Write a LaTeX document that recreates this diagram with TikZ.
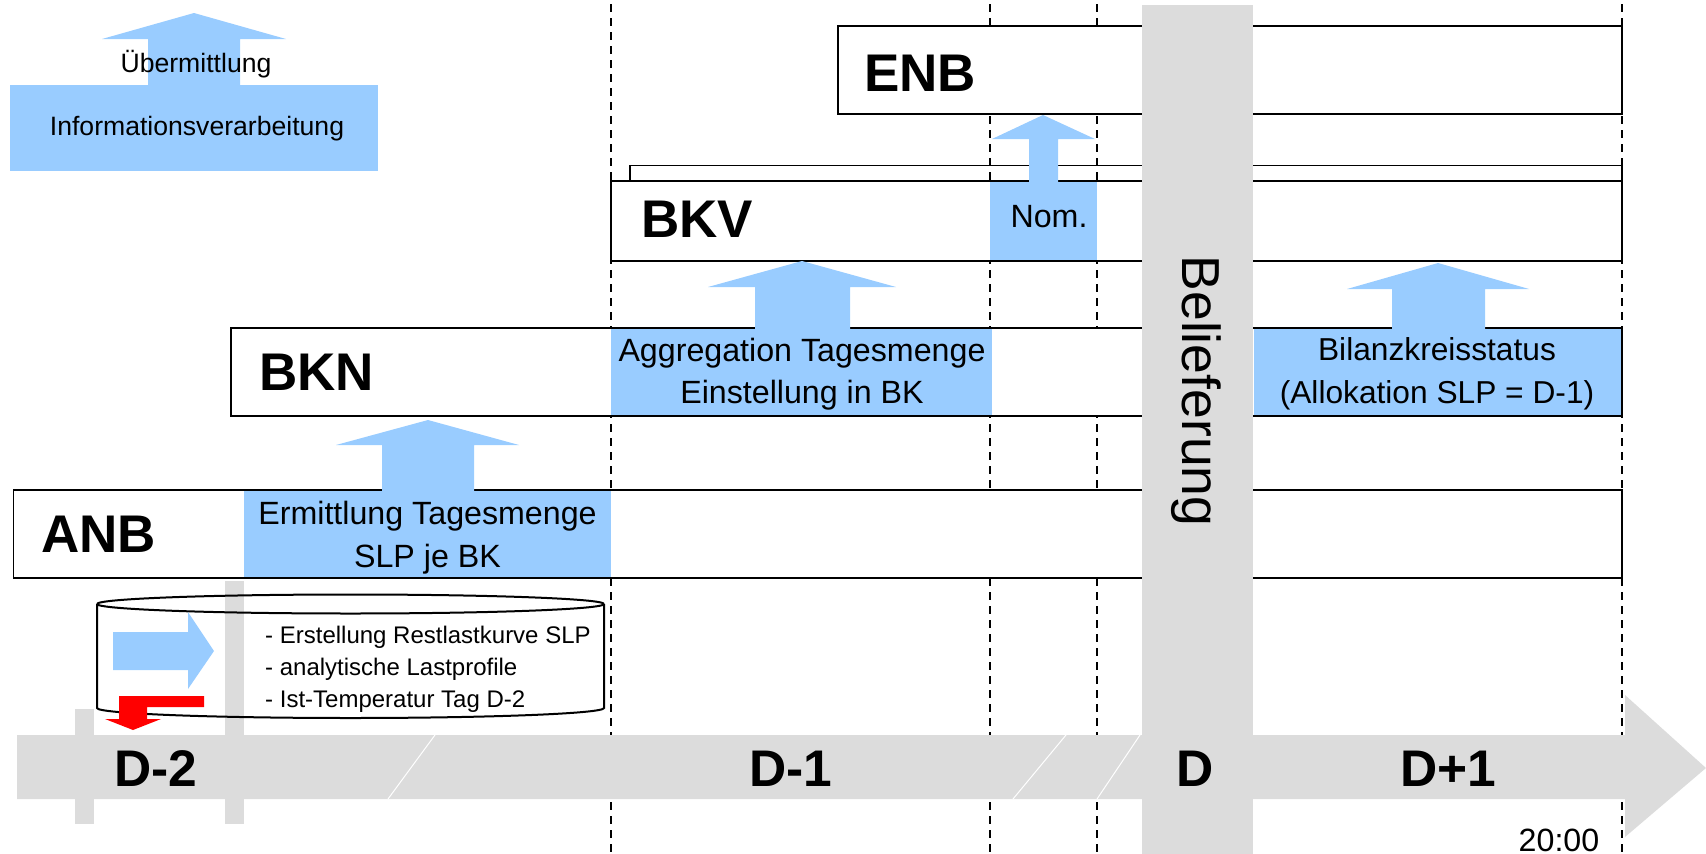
\documentclass[tikz,border=0pt]{standalone}
\usepackage{fontspec}
\setmainfont{Liberation Sans}
\definecolor{infoblue}{HTML}{99CCFF}
\definecolor{bandgray}{HTML}{DCDCDC}
\tikzset{
	rolebox/.style={draw=black,line width=1.8pt,fill=white},
	infoblock/.style={fill=infoblue},
	daymark/.style={fill=bandgray},
	txt/.style={inner sep=0pt,align=center,font=\fontsize{32.2}{42.5}\selectfont},
	smalltxt/.style={inner sep=0pt,align=left,font=\fontsize{24}{31.8}\selectfont},
	legendtxt/.style={inner sep=0pt,font=\fontsize{26.6}{30}\selectfont},
	rolename/.style={inner sep=0pt,font=\fontsize{53}{60}\selectfont\bfseries},
	dayname/.style={inner sep=0pt,font=\fontsize{51.5}{60}\selectfont\bfseries},
}
\begin{document}
\begin{tikzpicture}[x=1pt,y=-1pt]
	\useasboundingbox (0,0) rectangle (1706,854);
	\def\RightEnd{1622}%rechter Rand der Balken
	% Tagesgrenzen
	\foreach \x in{611,990,1097,1622}
		\draw[line width=1.6pt,dash pattern=on 8pt off 6pt] (\x,4)--(\x,854);
	% Balken der Rollen
	\draw[line width=1.8pt] (630,181)--(630,165.5)--(\RightEnd,165.5)--(\RightEnd,181);
	\draw[rolebox] (838,26) rectangle(\RightEnd,114);
	\draw[rolebox] (611,181) rectangle(\RightEnd,261);
	\draw[rolebox] (231,328) rectangle(\RightEnd,416);
	\draw[rolebox] (13.5,490) rectangle(\RightEnd,578);
	% Verarbeitung
	\fill[infoblock] (244,491) rectangle(611,577);
	\fill[infoblock] (611,329) rectangle(992,415);
	\fill[infoblock] (1254,329) rectangle(1621,415);
	\fill[infoblock] (990,182) rectangle(1097,260);
	% Pfeile nach oben: Schaft links, rechts, Kopf links, rechts, Kopf y, Spitze x, Spitze y, Fuss y
	\foreach \a/\b/\c/\d/\h/\t/\s/\f in{382/474/336/519/445/428/420/491,755/850/708/896/287/802/261/329,1392/1485/1347/1529/289/1438/263/329,1029/1058/992/1095/139/1043/115/182,148/240/102/286/39/194/13/85}
		\fill[infoblock] (\a,\f)--(\a,\h)--(\c,\h)--(\t,\s)--(\d,\h)--(\b,\h)--(\b,\f)--cycle;
	\fill[infoblock] (10,85) rectangle(378,171);
	% Zeitstrahl
	\fill[daymark] (75,709) rectangle(94,824);
	\fill[daymark] (225,581) rectangle(244,824);
	\fill[daymark] (17,735)--(1625,735)--(1625,695)--(1706,768)--(1625,837)--(1625,799)--(17,799)--cycle;
	\fill[daymark] (1142,5) rectangle(1253,854);
	\foreach \x/\y in{435/388,1066/1013,1140/1097}
		\draw[white,line width=1pt] (\x,735)--(\y,799);
	% Speicher
	\draw[line width=2pt] (97,604) arc(180:0:253.5 and 9.5) (604,604) arc(0:-180:253.5 and 9.5)
		(97,604)--(97,708) arc(180:0:253.5 and 10)--(604,604);
	\fill[infoblock] (113,632)--(188,632)--(188,612)--(214,651)--(188,689)--(188,670)--(113,670)--cycle;
	\fill[red] (204,696)--(119,696)--(119,719)--(105,719)--(133,730)--(161,719)--(147,719)--(147,707)--(204,707)--cycle;
	% Texte
	\node[legendtxt] (uebermittlung) at(196,64){Übermittlung};
	\node[legendtxt] (verarbeitung) at(197,129){Informationsverarbeitung};
	\node[rolename,anchor=west] (enb) at(864,73){ENB};
	\node[rolename,anchor=west] (bkv) at(641,219){BKV};
	\node[rolename,anchor=west] (bkn) at(259,372){BKN};
	\node[rolename,anchor=west] (anb) at(41,534.5){ANB};
	\node[txt] (ermittlung) at(427.5,537.5){Ermittlung Tagesmenge\\SLP je BK};
	\node[txt] (aggregation) at(802,374){Aggregation Tagesmenge\\Einstellung in BK};
	\node[txt,font=\fontsize{31.7}{42.5}\selectfont] (status) at(1437,374){Bilanzkreisstatus\\(Allokation SLP = D-1)};
	\node[txt] (nom) at(1049,216.5){Nom.};
	\node[smalltxt,anchor=west] (liste) at(265,669){- Erstellung Restlastkurve SLP\\- analytische Lastprofile\\- Ist-Temperatur Tag D-2};
	\node[inner sep=0pt,rotate=-90,font=\fontsize{53.5}{60}\selectfont] (belieferung) at(1196,391){Belieferung};
	\node[dayname] (dzwei) at(156,769){D-2};
	\node[dayname] (deins) at(791,769){D-1};
	\node[dayname] (dnull) at(1195,769){D};
	\node[dayname] (dplus) at(1448,769){D+1};
	\node[txt] (uhrzeit) at(1559,840){20:00};
\end{tikzpicture}
\end{document}
